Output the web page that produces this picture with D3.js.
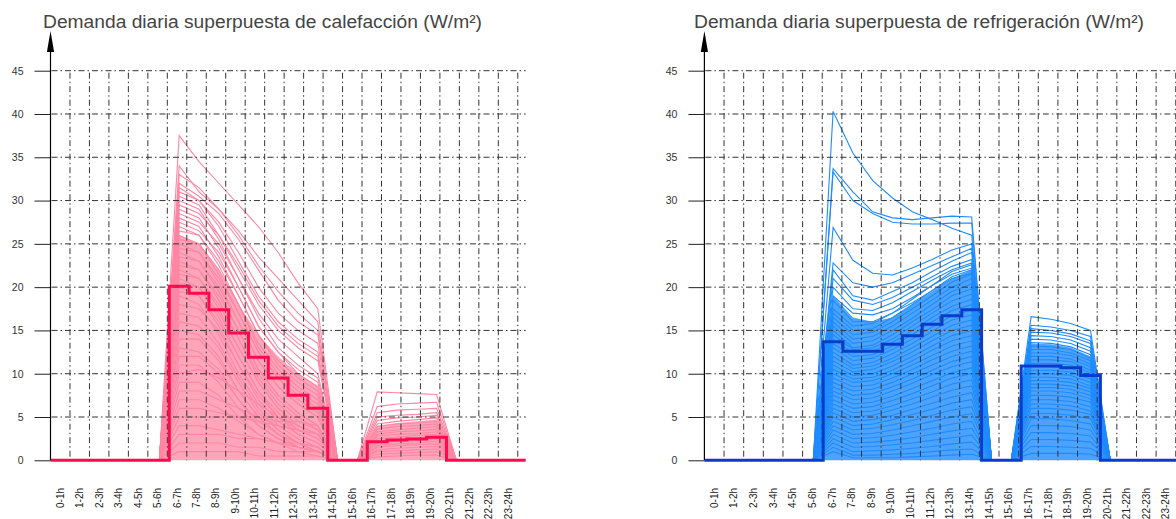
<!DOCTYPE html>
<html>
<head>
<meta charset="utf-8">
<script src="https://cdn.jsdelivr.net/npm/d3@7"></script>
<style>
  body { margin: 0; background: #fff; }
  svg { display: block; }
</style>
</head>
<body>
<script>
// hour labels and y ticks
var hourLabels = ['0-1h', '1-2h', '2-3h', '3-4h', '4-5h', '5-6h', '6-7h', '7-8h',
  '8-9h', '9-10h', '10-11h', '11-12h', '12-13h', '13-14h', '14-15h', '15-16h',
  '16-17h', '17-18h', '18-19h', '19-20h', '20-21h', '21-22h', '22-23h', '23-24h'];
var yTicks = [0, 5, 10, 15, 20, 25, 30, 35, 40, 45];

// hourly mean (thick step line)
var heatMean = [0, 0, 0, 0, 0, 0, 20.1, 19.3, 17.4, 14.7, 11.9, 9.5, 7.5, 6.0,
  0, 0, 2.15, 2.35, 2.45, 2.65, 0, 0, 0, 0];
var coolMean = [0, 0, 0, 0, 0, 0, 13.7, 12.6, 12.6, 13.4, 14.4, 15.7, 16.7, 17.4,
  0, 0, 10.9, 10.9, 10.7, 9.8, 0, 0, 0, 0];

// hours where the daily curves have points (middle of each hour)
var morningHours = [5.5, 6.5, 7.5, 8.5, 9.5, 10.5, 11.5, 12.5, 13.5, 14.5];
var afternoonHours = [15.5, 16.5, 17.5, 18.5, 19.5, 20.5];

// daily heating curves, 6-7h .. 13-14h
var heatMorning = [
  [37.5, 34.5, 32, 29.5, 27, 24, 20.5, 17.5],
  [34, 31, 29, 26.5, 23.5, 21, 18.5, 16],
  [33, 31.5, 29, 26, 22.5, 19.5, 17, 15],
  [32, 30.5, 28.5, 25.5, 22, 18.5, 16, 14.5],
  [31.5, 30, 27.5, 24, 20, 17, 15, 13.5],
  [31, 30, 27, 23, 19, 16, 14, 12.5],
  [30.5, 29.5, 26, 22, 18, 15, 13, 11.5],
  [30, 29, 25.5, 21, 17, 14, 12, 10],
  [29.5, 28.5, 26, 22.5, 18.5, 15.5, 13.5, 12],
  [29, 28, 24.5, 20, 15.5, 12.5, 10.5, 9],
  [28.5, 27.5, 25, 21, 16.5, 13, 11, 9.5],
  [28, 27, 23.5, 19, 14.5, 11.5, 9.5, 8],
  [27.5, 26.5, 24, 20, 15.5, 12.5, 10, 8.5],
  [27, 26, 22.5, 18, 13.5, 10.5, 8.5, 7],
  [26.5, 26, 23, 19, 14.5, 11, 9, 7.5],
  [26, 25, 21.5, 17, 12.5, 9.5, 7.5, 6],
  [25.5, 25, 22, 18, 13, 10, 8, 6.5],
  [25, 24, 20.5, 16, 11.5, 8.5, 6.5, 5],
  [24.5, 24, 21, 17, 12.5, 9.5, 7, 5.5],
  [24, 23, 19.5, 15, 10.5, 7.5, 5.5, 4],
  [23.5, 23, 20, 16, 11.5, 8.5, 6.5, 5],
  [23, 22, 18.5, 14, 9.5, 6.5, 4.5, 3.5],
  [22.5, 22, 19, 15, 10.5, 7.5, 5.5, 4],
  [22, 21, 17.5, 13, 9, 6, 4, 3],
  [21.5, 21, 18, 14, 10, 7, 5, 3.5],
  [21, 20, 16.5, 12, 8, 5, 3.5, 2.5],
  [20.5, 20, 17, 13, 9, 6, 4, 3],
  [20, 19, 15.5, 11, 7, 4.5, 3, 2],
  [19.5, 19, 16, 12, 8, 5.5, 3.5, 2.5],
  [19, 18, 14.5, 10, 6.5, 4, 2.5, 1.5],
  [18, 17.5, 15, 11, 7.5, 5, 3, 2],
  [17, 16.5, 13.5, 9.5, 6, 3.5, 2, 1.5],
  [16, 15.5, 13, 9, 5.5, 3.5, 2, 1],
  [15, 14.5, 12, 8, 5, 3, 1.5, 1],
  [14, 14, 11.5, 8, 5, 3, 2, 1],
  [13, 12.5, 10.5, 7, 4, 2.5, 1.5, 1],
  [12, 12, 10, 7, 4.5, 3, 2, 1.5],
  [11, 11, 9, 6, 4, 2.5, 1.5, 1],
  [10, 10.5, 9.5, 8, 6.5, 5, 4, 3],
  [9, 9, 7.5, 5, 3, 2, 1, 0.5],
  [8, 8, 7, 6, 5, 4, 3.5, 3],
  [7, 7, 6, 4.5, 3, 2, 1.5, 1],
  [6, 6, 5.5, 5, 4.5, 4, 3.5, 3],
  [5, 5, 5, 5, 5, 4.5, 4.5, 4],
  [4, 4, 3.5, 3, 2.5, 2, 1.5, 1],
  [3, 3, 3, 2.5, 2.5, 2, 2, 1.5],
  [2, 2, 2, 1.5, 1.5, 1, 1, 1],
  [1, 1, 1, 1, 0.5, 0.5, 0.5, 0.5]
];
// daily heating curves, 16-17h .. 19-20h
var heatAfternoon = [
  [7.9, 7.8, 7.7, 7.6],
  [6.2, 6.5, 6.6, 6.7],
  [5.5, 5.8, 5.9, 6.0],
  [5.0, 5.2, 5.3, 5.5],
  [4.6, 4.9, 5.0, 5.2],
  [4.2, 4.5, 4.7, 4.9],
  [3.9, 4.2, 4.3, 4.5],
  [3.6, 3.9, 4.0, 4.2],
  [3.3, 3.5, 3.7, 3.9],
  [3.0, 3.3, 3.4, 3.6],
  [2.8, 3.0, 3.1, 3.3],
  [2.5, 2.7, 2.9, 3.0],
  [2.2, 2.5, 2.6, 2.8],
  [2.0, 2.2, 2.3, 2.5],
  [1.7, 1.9, 2.0, 2.2],
  [1.5, 1.7, 1.8, 1.9],
  [1.2, 1.4, 1.5, 1.6],
  [1.0, 1.1, 1.2, 1.3],
  [0.7, 0.8, 0.9, 1.0],
  [0.4, 0.5, 0.6, 0.6]
];

// daily cooling curves, 6-7h .. 13-14h
var coolMorning = [
  [40.3, 35.5, 32.3, 30.3, 28.7, 27.8, 26.8, 26.0],
  [33.7, 31.0, 28.7, 28.0, 27.8, 28.0, 28.2, 28.1],
  [33.3, 30.0, 28.5, 27.5, 27.3, 27.3, 27.4, 27.4],
  [26.9, 23.1, 21.6, 21.4, 22.2, 23.2, 24.3, 25.0],
  [22.8, 20.5, 20.0, 20.5, 21.5, 22.5, 23.5, 24.5],
  [22.0, 19.0, 18.5, 19.5, 20.5, 21.8, 23.0, 24.0],
  [21.0, 18.5, 18.0, 18.8, 20.0, 21.2, 22.4, 23.2],
  [20.0, 17.5, 17.3, 18.2, 19.5, 20.8, 22.0, 22.8],
  [19.0, 17.0, 16.8, 17.5, 18.8, 20.2, 21.5, 22.2],
  [18.5, 16.0, 16.0, 17.0, 18.2, 19.6, 21.0, 21.6],
  [17.5, 15.5, 15.8, 17.0, 18.6, 20.2, 21.8, 22.6],
  [17.0, 15.0, 15.2, 16.5, 18.0, 19.6, 21.2, 22.0],
  [16.5, 14.5, 14.8, 16.0, 17.5, 19.0, 20.6, 21.5],
  [16.0, 14.0, 14.3, 15.5, 17.0, 18.5, 20.0, 21.0],
  [15.5, 13.5, 13.8, 15.0, 16.4, 18.0, 19.5, 20.4],
  [15.0, 13.0, 13.3, 14.5, 16.0, 17.4, 19.0, 19.8],
  [14.5, 12.8, 13.0, 14.0, 15.5, 17.0, 18.4, 19.2],
  [14.0, 12.4, 12.6, 13.6, 15.0, 16.5, 17.8, 18.6],
  [13.5, 12.0, 12.2, 13.2, 14.5, 16.0, 17.3, 18.0],
  [13.0, 11.5, 11.8, 12.8, 14.0, 15.4, 16.7, 17.4],
  [12.5, 11.0, 11.3, 12.3, 13.5, 14.9, 16.2, 16.8],
  [12.0, 10.6, 10.9, 11.8, 13.0, 14.3, 15.6, 16.2],
  [11.5, 10.2, 10.5, 11.4, 12.5, 13.8, 15.0, 15.6],
  [11.0, 9.8, 10.0, 10.9, 12.0, 13.2, 14.4, 15.0],
  [10.5, 9.4, 9.6, 10.4, 11.5, 12.7, 13.8, 14.4],
  [10.0, 9.0, 9.2, 10.0, 11.0, 12.1, 13.2, 13.8],
  [9.5, 8.5, 8.7, 9.5, 10.5, 11.6, 12.6, 13.2],
  [9.0, 8.0, 8.2, 9.0, 10.0, 11.0, 12.0, 12.6],
  [8.5, 7.5, 7.7, 8.5, 9.4, 10.4, 11.4, 12.0],
  [8.0, 7.0, 7.2, 8.0, 8.9, 9.9, 10.8, 11.4],
  [7.5, 6.5, 6.7, 7.4, 8.3, 9.2, 10.1, 10.7],
  [7.0, 6.0, 6.2, 6.9, 7.7, 8.6, 9.5, 10.0],
  [6.5, 5.5, 5.7, 6.3, 7.1, 7.9, 8.8, 9.3],
  [6.0, 5.0, 5.2, 5.8, 6.5, 7.3, 8.1, 8.6],
  [5.5, 4.5, 4.7, 5.2, 5.9, 6.6, 7.3, 7.8],
  [5.0, 4.0, 4.2, 4.7, 5.3, 5.9, 6.6, 7.0],
  [4.5, 3.5, 3.7, 4.1, 4.6, 5.2, 5.8, 6.2],
  [4.0, 3.0, 3.1, 3.5, 4.0, 4.5, 5.0, 5.4],
  [3.5, 2.5, 2.6, 2.9, 3.3, 3.7, 4.2, 4.5],
  [3.0, 2.0, 2.1, 2.3, 2.6, 3.0, 3.4, 3.7],
  [2.5, 1.5, 1.6, 1.8, 2.0, 2.3, 2.6, 2.9],
  [2.0, 1.0, 1.1, 1.2, 1.4, 1.6, 1.9, 2.1],
  [1.5, 0.6, 0.6, 0.7, 0.8, 1.0, 1.2, 1.3],
  [1.0, 0.3, 0.3, 0.3, 0.4, 0.5, 0.6, 0.7]
];
// daily cooling curves, 16-17h .. 19-20h
var coolAfternoon = [
  [16.6, 16.3, 15.8, 15.0],
  [15.6, 15.4, 15.0, 14.3],
  [15.2, 15.0, 14.6, 13.8],
  [14.8, 14.7, 14.3, 13.5],
  [14.4, 14.3, 13.9, 13.0],
  [14.0, 13.9, 13.5, 12.6],
  [13.6, 13.5, 13.1, 12.2],
  [13.2, 13.1, 12.8, 11.8],
  [12.8, 12.8, 12.4, 11.5],
  [12.4, 12.4, 12.1, 11.1],
  [12.0, 12.0, 11.7, 10.8],
  [11.6, 11.6, 11.4, 10.4],
  [11.2, 11.2, 11.0, 10.1],
  [10.8, 10.8, 10.6, 9.7],
  [10.4, 10.4, 10.2, 9.4],
  [10.0, 10.0, 9.8, 9.0],
  [9.6, 9.6, 9.4, 8.6],
  [9.2, 9.2, 9.0, 8.3],
  [8.8, 8.8, 8.6, 7.9],
  [8.4, 8.4, 8.2, 7.5],
  [8.0, 8.0, 7.8, 7.1],
  [7.5, 7.5, 7.3, 6.7],
  [7.0, 7.0, 6.8, 6.2],
  [6.5, 6.5, 6.3, 5.7],
  [6.0, 6.0, 5.8, 5.3],
  [5.4, 5.4, 5.2, 4.8],
  [4.8, 4.8, 4.6, 4.2],
  [4.0, 4.0, 3.9, 3.5],
  [3.2, 3.2, 3.1, 2.8],
  [2.4, 2.4, 2.3, 2.1],
  [1.6, 1.6, 1.5, 1.4],
  [0.8, 0.8, 0.8, 0.7]
];

// upper edge of the region where the daily curves are packed solid
var heatBandMorning = [0, 26, 25, 22, 18, 14.5, 12, 10, 8.5, 0];
var heatBandAfternoon = [0, 4.0, 4.3, 4.5, 4.7, 0];
var coolBandMorning = [0, 19, 16.5, 16, 16.5, 18, 19.5, 21, 22, 0];
var coolBandAfternoon = [0, 13.5, 13.4, 13.0, 12.0, 0];

var svg = d3.select('body').append('svg')
  .attr('width', 1176)
  .attr('height', 519);

// one panel
function drawPanel(p) {
  var g = svg.append('g');

  var y = d3.scaleLinear().domain([0, 45]).range([460.3, 70.7]);
  // curves and means use a slightly wider hour than the printed grid
  var x = d3.scaleLinear().domain([0, 24]).range([p.x0, p.x0 + 24 * 19.8]);
  var xGrid = d3.scaleLinear().domain([0, 24]).range([p.x0, p.x0 + 24 * p.gridStep]);
  var xBand = d3.scaleBand().domain(hourLabels).range([p.x0, p.x0 + 24 * p.gridStep]);

  var line = d3.line()
    .x(function(d) { return x(d[0]); })
    .y(function(d) { return y(d[1]); });
  var area = d3.area()
    .x(function(d) { return x(d[0]); })
    .y0(y(0))
    .y1(function(d) { return y(d[1]); });

  // solid packed region
  [[morningHours, p.bandMorning], [afternoonHours, p.bandAfternoon]].forEach(function(b) {
    g.append('path')
      .datum(d3.zip(b[0], b[1]))
      .attr('d', area)
      .attr('fill', p.bandColor);
  });

  // daily curves
  var curves = g.append('g')
    .attr('fill', 'none')
    .attr('stroke', p.lineColor)
    .attr('stroke-width', 1.1);
  p.morning.forEach(function(c) {
    curves.append('path')
      .datum(d3.zip(morningHours, [0].concat(c, [0])))
      .attr('d', line);
  });
  p.afternoon.forEach(function(c) {
    curves.append('path')
      .datum(d3.zip(afternoonHours, [0].concat(c, [0])))
      .attr('d', line);
  });

  // grid
  var grid = g.append('g')
    .attr('stroke', '#333')
    .attr('stroke-width', 1)
    .attr('stroke-dasharray', '6,3,1.5,3');
  grid.selectAll('line.h')
    .data(yTicks.slice(1))
    .enter()
    .append('line')
    .attr('x1', p.x0 + 1)
    .attr('x2', x(24))
    .attr('y1', function(d) { return y(d); })
    .attr('y2', function(d) { return y(d); });
  grid.selectAll('line.v')
    .data(d3.range(1, 25))
    .enter()
    .append('line')
    .attr('x1', function(d) { return xGrid(d); })
    .attr('x2', function(d) { return xGrid(d); })
    .attr('y1', y(45) + 2)
    .attr('y2', y(0));

  // hourly mean
  var steps = d3.range(25).map(function(h) {
    return [h, p.mean[Math.min(h, 23)]];
  });
  g.append('path')
    .datum(steps)
    .attr('d', line.curve(d3.curveStepAfter))
    .attr('fill', 'none')
    .attr('stroke', p.meanColor)
    .attr('stroke-width', 3);
  line.curve(d3.curveLinear);

  // y axis
  var yAxis = g.append('g')
    .attr('transform', 'translate(' + p.x0 + ',0)')
    .call(d3.axisLeft(y).tickValues(yTicks).tickSize(16).tickPadding(11));
  yAxis.select('.domain').remove();
  yAxis.selectAll('line').attr('stroke', '#222');
  yAxis.selectAll('text')
    .attr('fill', '#333')
    .style('font-family', 'Liberation Sans, Arial, sans-serif')
    .style('font-size', '10.5px');
  g.append('line')
    .attr('x1', p.x0).attr('x2', p.x0)
    .attr('y1', y(0)).attr('y2', 45)
    .attr('stroke', '#000')
    .attr('stroke-width', 1.2);
  g.append('path')
    .attr('d', 'M' + p.x0 + ',31L' + (p.x0 + 3.6) + ',52L' + (p.x0 - 3.6) + ',52Z')
    .attr('fill', '#000');

  // hour labels
  var xAxis = g.append('g')
    .attr('transform', 'translate(0,488)')
    .call(d3.axisBottom(xBand).tickSize(0));
  xAxis.select('.domain').remove();
  xAxis.selectAll('text')
    .attr('transform', 'rotate(-90)')
    .attr('text-anchor', 'end')
    .attr('x', 0)
    .attr('y', 0)
    .attr('dy', '0.35em')
    .attr('fill', '#222')
    .style('font-family', 'Liberation Sans, Arial, sans-serif')
    .style('font-size', '10px');

  // title
  g.append('text')
    .attr('x', p.titleX)
    .attr('y', 28)
    .attr('textLength', p.titleLength)
    .attr('lengthAdjust', 'spacingAndGlyphs')
    .attr('fill', '#444')
    .style('font-family', 'Liberation Sans, Arial, sans-serif')
    .style('font-size', '17.5px')
    .text(p.title);
}

drawPanel({
  x0: 50.5,
  gridStep: 19.47,
  title: 'Demanda diaria superpuesta de calefacción (W/m²)',
  titleX: 43,
  titleLength: 439,
  mean: heatMean,
  morning: heatMorning,
  afternoon: heatAfternoon,
  bandMorning: heatBandMorning,
  bandAfternoon: heatBandAfternoon,
  lineColor: '#ff87a4',
  bandColor: '#ffa5ba',
  meanColor: '#ff0a4c'
});

drawPanel({
  x0: 704.4,
  gridStep: 19.64,
  title: 'Demanda diaria superpuesta de refrigeración (W/m²)',
  titleX: 694,
  titleLength: 450,
  mean: coolMean,
  morning: coolMorning,
  afternoon: coolAfternoon,
  bandMorning: coolBandMorning,
  bandAfternoon: coolBandAfternoon,
  lineColor: '#1e8cff',
  bandColor: '#4ca3ff',
  meanColor: '#0a3ccc'
});
</script>
</body>
</html>
